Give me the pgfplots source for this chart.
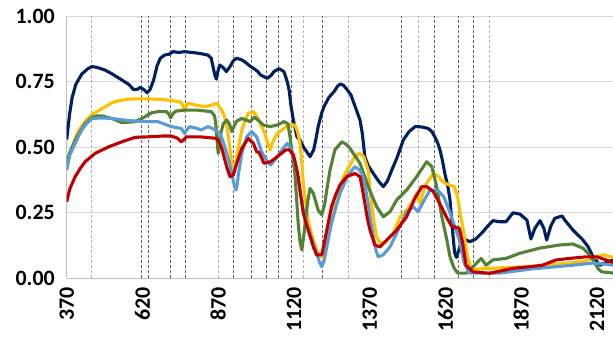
\documentclass[border=0pt]{standalone}
\usepackage{fontspec}
\setmainfont{Carlito}
\usepackage{pgfplots}
\usepackage{pgfplotstable}
\pgfplotsset{compat=1.18}
\definecolor{cnavy}{HTML}{002060}
\definecolor{cyel}{HTML}{FFC000}
\definecolor{cgreen}{HTML}{548235}
\definecolor{cblue}{HTML}{5B9BD5}
\definecolor{cred}{HTML}{C00000}
\definecolor{cgrid}{HTML}{D9D9D9}
\definecolor{caxis}{HTML}{BFBFBF}

\pgfplotstableread{
x y
370 0.53
380 0.63
388 0.69
400 0.74
420 0.78
440 0.80
453 0.808
470 0.805
496 0.795
520 0.78
552 0.757
575 0.74
591 0.72
605 0.722
613 0.729
625 0.72
635 0.708
645 0.72
657 0.757
668 0.81
679 0.84
693 0.852
707 0.855
721 0.865
740 0.862
759 0.865
775 0.863
792 0.861
815 0.857
836 0.852
847 0.84
853 0.808
859 0.775
864 0.76
869 0.79
875 0.814
886 0.805
897 0.789
910 0.81
920 0.83
930 0.84
945 0.835
957 0.827
975 0.81
988 0.80
1000 0.79
1010 0.776
1032 0.763
1045 0.775
1054 0.789
1071 0.80
1087 0.789
1098 0.75
1104 0.719
1110 0.66
1118 0.604
1130 0.54
1140 0.528
1152 0.50
1162 0.483
1173 0.464
1185 0.49
1192 0.528
1200 0.579
1210 0.625
1219 0.655
1235 0.69
1252 0.712
1265 0.735
1274 0.742
1285 0.735
1296 0.719
1308 0.70
1318 0.668
1330 0.63
1338 0.604
1346 0.55
1354 0.464
1365 0.43
1382 0.40
1400 0.37
1415 0.35
1428 0.37
1443 0.413
1460 0.46
1481 0.528
1500 0.56
1520 0.579
1540 0.578
1563 0.572
1575 0.56
1585 0.54
1595 0.515
1602 0.49
1610 0.45
1618 0.40
1628 0.35
1635 0.30
1642 0.20
1650 0.10
1656 0.08
1665 0.11
1678 0.15
1701 0.14
1720 0.15
1744 0.178
1760 0.20
1777 0.22
1797 0.216
1820 0.216
1843 0.25
1866 0.245
1889 0.222
1902 0.15
1915 0.19
1932 0.22
1945 0.19
1954 0.146
1968 0.20
1981 0.229
2005 0.238
2014 0.222
2041 0.184
2074 0.146
2091 0.12
2107 0.082
2130 0.05
2150 0.06
2173 0.07
}\navy

\pgfplotstableread{
x y
370 0.43
380 0.47
388 0.50
400 0.54
410 0.565
431 0.60
453 0.625
475 0.64
497 0.655
520 0.67
542 0.678
575 0.684
620 0.685
685 0.683
720 0.678
748 0.672
755 0.655
760 0.636
765 0.66
770 0.668
800 0.66
825 0.655
847 0.661
865 0.668
882 0.642
890 0.62
898 0.59
904 0.54
909 0.49
915 0.44
920 0.40
926 0.42
931 0.464
940 0.52
948 0.566
958 0.60
969 0.63
986 0.636
1002 0.61
1013 0.58
1024 0.553
1032 0.52
1041 0.49
1050 0.52
1065 0.553
1087 0.572
1100 0.585
1123 0.585
1132 0.56
1140 0.515
1146 0.44
1151 0.363
1160 0.28
1167 0.222
1176 0.18
1184 0.146
1192 0.12
1200 0.095
1212 0.08
1222 0.134
1233 0.20
1244 0.26
1258 0.31
1272 0.35
1285 0.39
1299 0.42
1321 0.465
1335 0.477
1350 0.465
1365 0.413
1370 0.35
1376 0.286
1385 0.21
1393 0.159
1404 0.134
1420 0.135
1448 0.172
1470 0.235
1492 0.26
1510 0.29
1525 0.324
1536 0.286
1547 0.33
1558 0.363
1580 0.40
1596 0.39
1610 0.37
1624 0.36
1649 0.35
1660 0.311
1668 0.25
1677 0.197
1685 0.14
1693 0.082
1704 0.038
1720 0.035
1800 0.04
1900 0.045
2000 0.055
2080 0.065
2110 0.078
2140 0.09
2173 0.08
}\yel

\pgfplotstableread{
x y
370 0.44
380 0.48
388 0.50
400 0.53
410 0.553
431 0.59
453 0.614
470 0.62
486 0.62
519 0.61
552 0.594
575 0.596
596 0.598
618 0.61
640 0.625
651 0.632
671 0.636
700 0.636
708 0.625
713 0.612
720 0.628
730 0.638
759 0.642
800 0.642
847 0.636
858 0.62
862 0.59
866 0.53
870 0.477
874 0.50
880 0.56
887 0.59
898 0.604
907 0.59
915 0.56
922 0.58
931 0.60
948 0.61
975 0.598
990 0.615
1005 0.60
1019 0.585
1041 0.579
1065 0.585
1087 0.598
1100 0.59
1107 0.54
1115 0.47
1123 0.40
1129 0.30
1134 0.21
1140 0.14
1146 0.108
1151 0.15
1156 0.197
1165 0.29
1173 0.343
1184 0.324
1200 0.26
1212 0.242
1222 0.286
1230 0.35
1239 0.413
1255 0.49
1278 0.521
1294 0.51
1305 0.496
1320 0.47
1338 0.439
1350 0.40
1365 0.35
1393 0.273
1415 0.235
1437 0.254
1459 0.299
1492 0.337
1525 0.388
1558 0.445
1575 0.426
1591 0.35
1608 0.235
1624 0.15
1635 0.082
1648 0.04
1660 0.02
1690 0.02
1711 0.044
1738 0.076
1754 0.05
1776 0.07
1820 0.076
1864 0.095
1930 0.115
1996 0.127
2040 0.131
2074 0.115
2095 0.09
2107 0.07
2125 0.035
2135 0.025
2173 0.02
}\green

\pgfplotstableread{
x y
370 0.413
380 0.47
398 0.515
410 0.545
420 0.566
435 0.59
453 0.61
486 0.612
519 0.61
575 0.602
629 0.598
671 0.598
715 0.579
748 0.572
755 0.56
759 0.553
765 0.565
776 0.579
800 0.572
814 0.566
836 0.579
854 0.57
876 0.553
887 0.52
898 0.477
907 0.44
915 0.40
922 0.36
929 0.337
933 0.36
937 0.40
948 0.477
964 0.54
980 0.56
997 0.54
1013 0.483
1030 0.45
1043 0.432
1065 0.464
1087 0.50
1098 0.515
1107 0.50
1118 0.46
1129 0.413
1140 0.33
1151 0.26
1162 0.21
1173 0.172
1184 0.13
1195 0.095
1205 0.06
1212 0.044
1220 0.07
1230 0.13
1244 0.21
1258 0.27
1272 0.324
1299 0.394
1321 0.426
1335 0.415
1345 0.40
1355 0.35
1365 0.286
1373 0.22
1382 0.159
1390 0.11
1398 0.082
1415 0.09
1437 0.12
1464 0.184
1492 0.254
1514 0.273
1530 0.254
1547 0.292
1569 0.337
1596 0.335
1615 0.31
1635 0.25
1650 0.20
1666 0.146
1682 0.057
1699 0.02
1800 0.02
1900 0.035
1981 0.044
2040 0.05
2107 0.058
2140 0.055
2173 0.05
}\blue

\pgfplotstableread{
x y
370 0.292
380 0.34
398 0.388
415 0.42
431 0.445
464 0.477
509 0.502
552 0.521
596 0.538
641 0.54
685 0.543
715 0.543
735 0.535
748 0.521
757 0.53
765 0.54
810 0.54
865 0.534
875 0.515
882 0.496
890 0.46
898 0.426
909 0.388
920 0.394
931 0.439
948 0.496
969 0.534
986 0.515
997 0.483
1005 0.48
1013 0.46
1021 0.439
1043 0.445
1065 0.464
1093 0.49
1105 0.49
1118 0.471
1125 0.44
1134 0.388
1142 0.32
1151 0.248
1167 0.184
1184 0.12
1195 0.089
1212 0.09
1222 0.146
1233 0.21
1244 0.273
1258 0.32
1272 0.356
1294 0.388
1321 0.40
1338 0.388
1346 0.34
1354 0.286
1362 0.23
1371 0.184
1387 0.127
1404 0.12
1426 0.146
1459 0.184
1492 0.235
1519 0.305
1542 0.35
1558 0.35
1580 0.331
1608 0.27
1625 0.23
1640 0.20
1666 0.19
1677 0.134
1688 0.05
1710 0.025
1765 0.019
1842 0.038
1897 0.044
1940 0.05
1985 0.07
2030 0.076
2085 0.082
2120 0.082
2150 0.07
2173 0.06
}\red

\begin{document}
\begin{tikzpicture}
\begin{axis}[
  name=ax,
  scale only axis,
  width=546.3bp, height=262bp,
  xmin=370, xmax=2173, ymin=0, ymax=1,
  axis x line*=bottom, axis y line*=left,
  axis line style={draw=caxis, line width=1.5bp},
  xtick={370,620,870,1120,1370,1620,1870,2120},
  ytick={0,0.25,0.5,0.75,1},
  major tick length=0pt,
  ymajorgrids,
  major grid style={draw=cgrid, line width=1.2bp},
  tick label style={font=\fontsize{22}{22}\selectfont\bfseries, inner sep=0pt},
  /pgf/number format/assume math mode=true,
  x tick label style={rotate=90, anchor=east, /pgf/number format/1000 sep={}},
  xticklabel shift=9bp,
  y tick label style={/pgf/number format/.cd, fixed, fixed zerofill, precision=2},
  yticklabel shift=11.7bp,
  clip=true,
]
\addplot[ycomb, mark=none, draw=black!30, line width=0.7bp, dash pattern=on 3bp off 2bp]
  coordinates {(450,1) (870,1) (1151,1) (1299,1) (1532,1) (1766,1)};
\addplot[ycomb, mark=none, draw=black!60, line width=0.7bp, dash pattern=on 3bp off 2bp]
  coordinates {(617,1) (639,1) (711,1) (763,1) (920,1) (981,1) (1030,1) (1068,1) (1113,1) (1215,1) (1476,1) (1583,1) (1664,1) (1713,1)};
\addplot[cnavy, line width=3.1bp, line join=round, mark=none] table {\navy};
\addplot[cyel, line width=3.1bp, line join=round, mark=none] table {\yel};
\addplot[cgreen, line width=3.1bp, line join=round, mark=none] table {\green};
\addplot[cblue, line width=3.1bp, line join=round, mark=none] table {\blue};
\addplot[cred, line width=3.1bp, line join=round, mark=none] table {\red};
\end{axis}
\pgfresetboundingbox
\path[use as bounding box] ([xshift=-66.7bp, yshift=-61.7bp]ax.south west) rectangle ([yshift=16.3bp]ax.north east);
\end{tikzpicture}
\end{document}
